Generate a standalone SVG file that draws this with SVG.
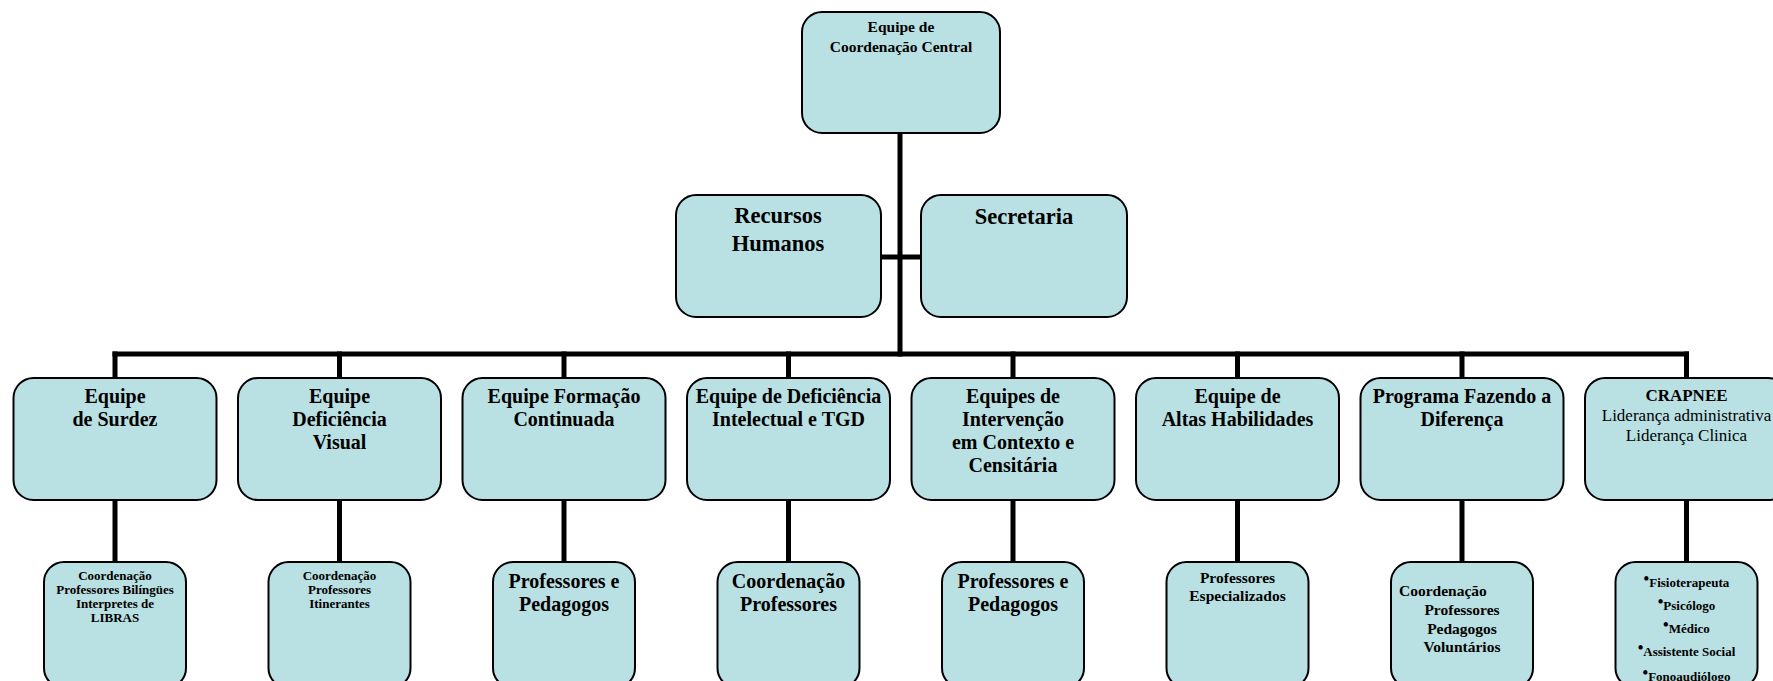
<svg xmlns="http://www.w3.org/2000/svg" width="1773" height="681" viewBox="0 0 1773 681">
<style>
.box{fill:#B9E0E3;stroke:#000;stroke-width:2}
.con{stroke:#000;stroke-width:5;fill:none;stroke-linecap:square}
text{font-family:"Liberation Serif","Times New Roman",serif;font-weight:bold;fill:#000;text-anchor:middle}
.t15{font-size:15.5px}
.t22{font-size:22.5px}
.t20{font-size:20px}
.t17{font-size:17px}
.t13{font-size:13px}
.t155{font-size:15.5px}
.reg{font-weight:normal}
.bul{font-size:16px}
</style>
<rect width="1773" height="681" fill="#fff"/>
<g id="connectors">
<line class="con" x1="900" y1="134" x2="900" y2="354"/>
<line class="con" x1="881" y1="257" x2="921" y2="257"/>
<line class="con" x1="115" y1="354" x2="1686.5" y2="354"/>
<line class="con" x1="115" y1="354" x2="115" y2="377"/>
<line class="con" x1="339.5" y1="354" x2="339.5" y2="377"/>
<line class="con" x1="564" y1="354" x2="564" y2="377"/>
<line class="con" x1="788.5" y1="354" x2="788.5" y2="377"/>
<line class="con" x1="1013" y1="354" x2="1013" y2="377"/>
<line class="con" x1="1237.5" y1="354" x2="1237.5" y2="377"/>
<line class="con" x1="1462" y1="354" x2="1462" y2="377"/>
<line class="con" x1="1686.5" y1="354" x2="1686.5" y2="377"/>
<line class="con" x1="115" y1="503" x2="115" y2="560"/>
<line class="con" x1="339.5" y1="503" x2="339.5" y2="560"/>
<line class="con" x1="564" y1="503" x2="564" y2="560"/>
<line class="con" x1="788.5" y1="503" x2="788.5" y2="560"/>
<line class="con" x1="1013" y1="503" x2="1013" y2="560"/>
<line class="con" x1="1237.5" y1="503" x2="1237.5" y2="560"/>
<line class="con" x1="1462" y1="503" x2="1462" y2="560"/>
<line class="con" x1="1686.5" y1="503" x2="1686.5" y2="560"/>
</g>
<g id="coord-central">
<rect class="box" x="802" y="12" width="198" height="121" rx="20"/>
<text class="t15" x="901" y="32">Equipe de</text>
<text class="t15" x="901" y="52">Coordenação Central</text>
</g>
<g id="rh">
<rect class="box" x="676" y="195" width="205" height="122" rx="20"/>
<text class="t22" x="778" y="223">Recursos</text>
<text class="t22" x="778" y="251">Humanos</text>
</g>
<g id="secretaria">
<rect class="box" x="921" y="195" width="206" height="122" rx="20"/>
<text class="t22" x="1024" y="224">Secretaria</text>
</g>
<g id="surdez">
<rect class="box" x="13.5" y="378" width="203" height="122" rx="20"/>
<text class="t20" x="115" y="403">Equipe</text>
<text class="t20" x="115" y="426">de Surdez</text>
</g>
<g id="visual">
<rect class="box" x="238" y="378" width="203" height="122" rx="20"/>
<text class="t20" x="339.5" y="403">Equipe</text>
<text class="t20" x="339.5" y="426">Deficiência</text>
<text class="t20" x="339.5" y="449">Visual</text>
</g>
<g id="formacao">
<rect class="box" x="462.5" y="378" width="203" height="122" rx="20"/>
<text class="t20" x="564" y="403">Equipe Formação</text>
<text class="t20" x="564" y="426">Continuada</text>
</g>
<g id="intelectual">
<rect class="box" x="687" y="378" width="203" height="122" rx="20"/>
<text class="t20" x="788.5" y="403">Equipe de Deficiência</text>
<text class="t20" x="788.5" y="426">Intelectual e TGD</text>
</g>
<g id="intervencao">
<rect class="box" x="911.5" y="378" width="203" height="122" rx="20"/>
<text class="t20" x="1013" y="403">Equipes de</text>
<text class="t20" x="1013" y="426">Intervenção</text>
<text class="t20" x="1013" y="449">em Contexto e</text>
<text class="t20" x="1013" y="472">Censitária</text>
</g>
<g id="altas">
<rect class="box" x="1136" y="378" width="203" height="122" rx="20"/>
<text class="t20" x="1237.5" y="403">Equipe de</text>
<text class="t20" x="1237.5" y="426">Altas Habilidades</text>
</g>
<g id="programa">
<rect class="box" x="1360.5" y="378" width="203" height="122" rx="20"/>
<text class="t20" x="1462" y="403">Programa Fazendo a</text>
<text class="t20" x="1462" y="426">Diferença</text>
</g>
<g id="crapnee">
<rect class="box" x="1585" y="378" width="203" height="122" rx="20"/>
<text class="t17" x="1686.5" y="401">CRAPNEE</text>
<text class="t17 reg" x="1686.5" y="421">Liderança administrativa</text>
<text class="t17 reg" x="1686.5" y="441">Liderança Clinica</text>
</g>
<g id="surdez-sub">
<rect class="box" x="44" y="562" width="142" height="126" rx="20"/>
<text class="t13" x="115" y="580">Coordenação</text>
<text class="t13" x="115" y="594">Professores Bilíngües</text>
<text class="t13" x="115" y="608">Interpretes de</text>
<text class="t13" x="115" y="622">LIBRAS</text>
</g>
<g id="visual-sub">
<rect class="box" x="268.5" y="562" width="142" height="126" rx="20"/>
<text class="t13" x="339.5" y="580">Coordenação</text>
<text class="t13" x="339.5" y="594">Professores</text>
<text class="t13" x="339.5" y="608">Itinerantes</text>
</g>
<g id="formacao-sub">
<rect class="box" x="493" y="562" width="142" height="126" rx="20"/>
<text class="t20" x="564" y="588">Professores e</text>
<text class="t20" x="564" y="611">Pedagogos</text>
</g>
<g id="intelectual-sub">
<rect class="box" x="717.5" y="562" width="142" height="126" rx="20"/>
<text class="t20" x="788.5" y="588">Coordenação</text>
<text class="t20" x="788.5" y="611">Professores</text>
</g>
<g id="intervencao-sub">
<rect class="box" x="942" y="562" width="142" height="126" rx="20"/>
<text class="t20" x="1013" y="588">Professores e</text>
<text class="t20" x="1013" y="611">Pedagogos</text>
</g>
<g id="altas-sub">
<rect class="box" x="1166.5" y="562" width="142" height="126" rx="20"/>
<text class="t155" x="1237.5" y="583">Professores</text>
<text class="t155" x="1237.5" y="601">Especializados</text>
</g>
<g id="programa-sub">
<rect class="box" x="1391" y="562" width="142" height="126" rx="20"/>
<text class="t155" x="1399" y="596" style="text-anchor:start">Coordenação</text>
<text class="t155" x="1462" y="615">Professores</text>
<text class="t155" x="1462" y="634">Pedagogos</text>
<text class="t155" x="1462" y="652">Voluntários</text>
</g>
<g id="crapnee-sub">
<rect class="box" x="1615.5" y="562" width="142" height="126" rx="20"/>
<text class="t13" x="1686.5" y="587"><tspan class="bul" dy="-3">•</tspan><tspan dy="3">Fisioterapeuta</tspan></text>
<text class="t13" x="1686.5" y="610"><tspan class="bul" dy="-3">•</tspan><tspan dy="3">Psicólogo</tspan></text>
<text class="t13" x="1686.5" y="633"><tspan class="bul" dy="-3">•</tspan><tspan dy="3">Médico</tspan></text>
<text class="t13" x="1686.5" y="656"><tspan class="bul" dy="-3">•</tspan><tspan dy="3">Assistente Social</tspan></text>
<text class="t13" x="1686.5" y="681"><tspan class="bul" dy="-3">•</tspan><tspan dy="3">Fonoaudiólogo</tspan></text>
</g>
</svg>
